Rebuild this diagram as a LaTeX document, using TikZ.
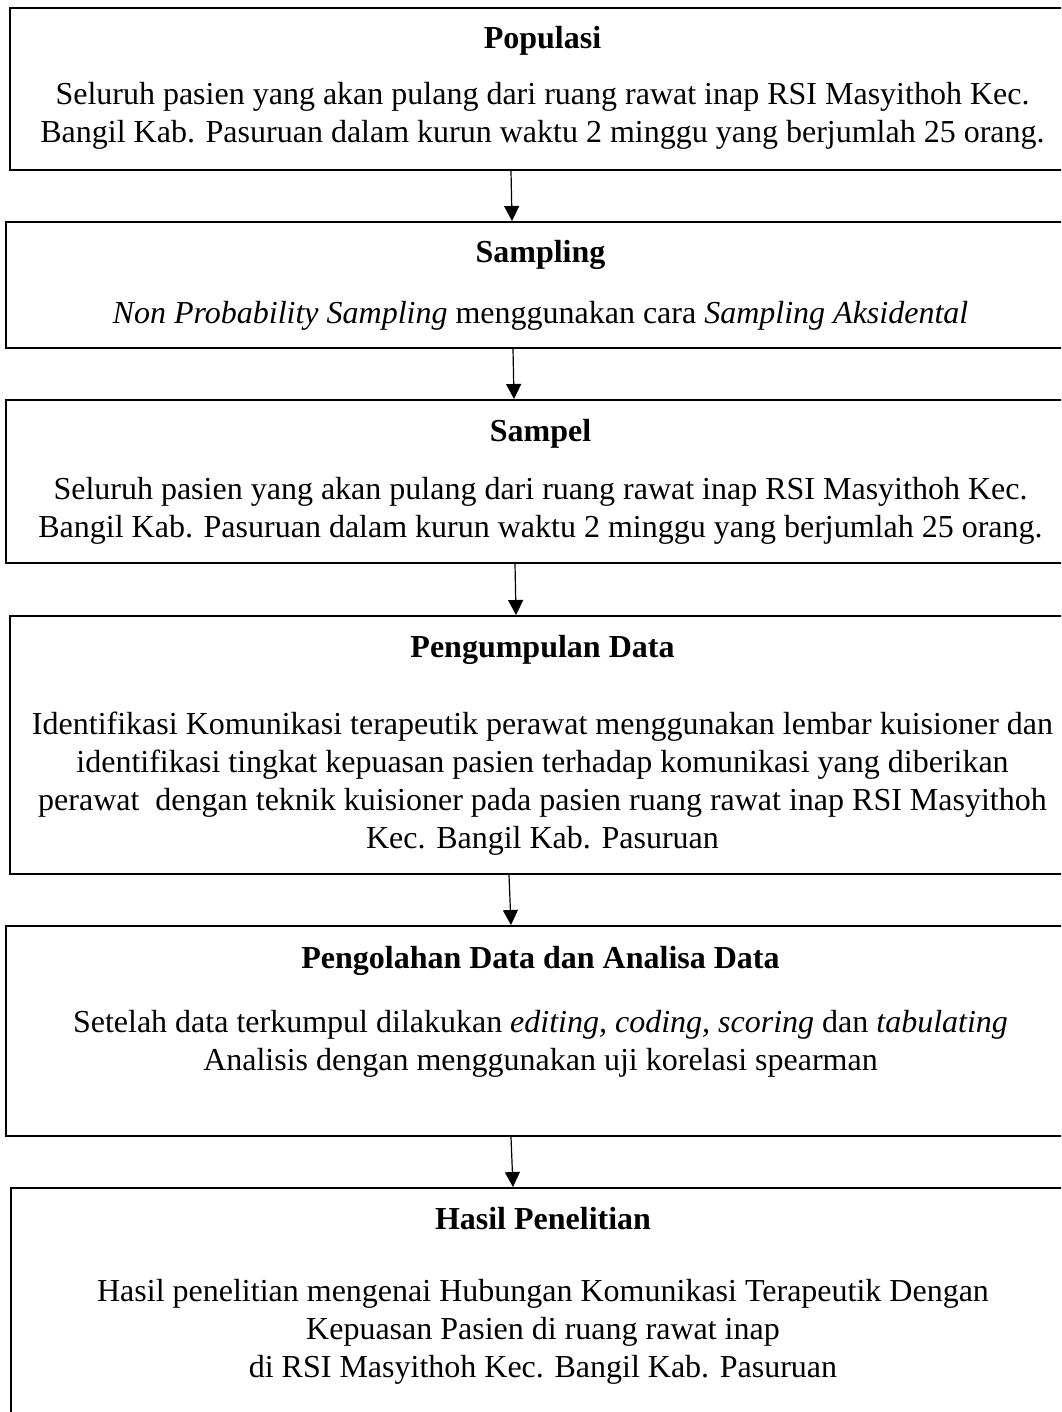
\documentclass[tikz,border=0pt]{standalone}
\usepackage{fontspec}
\setmainfont{Liberation Serif}
\usetikzlibrary{fit,arrows.meta}

\begin{document}
\begin{tikzpicture}[x=0.5pt,y=-0.5pt,
    stepbox/.style={draw, line width=1pt, inner sep=0pt},
    head/.style={font=\fontsize{16pt}{19pt}\selectfont\bfseries, anchor=base, inner sep=0pt},
    body/.style={font=\fontsize{16pt}{19pt}\selectfont, align=center, anchor=base, inner sep=0pt},
    arr/.style={line width=0.6pt, -{Triangle[length=7.5pt,width=7.5pt]}}]
    \useasboundingbox (0,0) rectangle (1061,1412);
    \clip (0,0) rectangle (1061,1412);

    \node[stepbox, fit={(10,8) (1075,170)}] (populasi) {};
    \node[head] (populasi-h) at (542.5,49) {Populasi};
    \node[body] (populasi-t) at (542.5,143) {Seluruh pasien yang akan pulang dari ruang rawat inap RSI Masyithoh Kec.\\
        Bangil Kab. Pasuruan dalam kurun waktu 2 minggu yang berjumlah 25 orang.};

    \node[stepbox, fit={(6,222) (1075,348)}] (sampling) {};
    \node[head] (sampling-h) at (540.5,263) {Sampling};
    \node[body] (sampling-t) at (540.5,323) {\textit{Non Probability Sampling} menggunakan cara \textit{Sampling Aksidental}};

    \node[stepbox, fit={(6,400) (1075,563)}] (sampel) {};
    \node[head] (sampel-h) at (540.5,441) {Sampel};
    \node[body] (sampel-t) at (540.5,537) {Seluruh pasien yang akan pulang dari ruang rawat inap RSI Masyithoh Kec.\\
        Bangil Kab. Pasuruan dalam kurun waktu 2 minggu yang berjumlah 25 orang.};

    \node[stepbox, fit={(10,616) (1075,874)}] (pengumpulan) {};
    \node[head] (pengumpulan-h) at (542.5,657) {Pengumpulan Data};
    \node[body] (pengumpulan-t) at (542.5,848) {Identifikasi Komunikasi terapeutik perawat menggunakan lembar kuisioner dan\\
        identifikasi tingkat kepuasan pasien terhadap komunikasi yang diberikan\\
        perawat\ \ dengan teknik kuisioner pada pasien ruang rawat inap RSI Masyithoh\\
        Kec. Bangil Kab. Pasuruan};

    \node[stepbox, fit={(6,926) (1075,1136)}] (pengolahan) {};
    \node[head] (pengolahan-h) at (540.5,968) {Pengolahan Data dan Analisa Data};
    \node[body] (pengolahan-t) at (540.5,1070) {Setelah data terkumpul dilakukan \textit{editing, coding, scoring} dan \textit{tabulating}\\
        Analisis dengan menggunakan uji korelasi spearman};

    \node[stepbox, fit={(11,1188) (1075,1420)}] (hasil) {};
    \node[head] (hasil-h) at (543,1229) {Hasil Penelitian};
    \node[body] (hasil-t) at (543,1377) {Hasil penelitian mengenai Hubungan Komunikasi Terapeutik Dengan\\
        Kepuasan Pasien di ruang rawat inap\\
        di RSI Masyithoh Kec. Bangil Kab. Pasuruan};

    \draw[arr] ([xshift=-15.75pt]populasi.south) -- ([xshift=-14.25pt]sampling.north);
    \draw[arr] ([xshift=-13.75pt]sampling.south) -- ([xshift=-13.25pt]sampel.north);
    \draw[arr] ([xshift=-12.75pt]sampel.south) -- ([xshift=-13.25pt]pengumpulan.north);
    \draw[arr] ([xshift=-16.75pt]pengumpulan.south) -- ([xshift=-14.75pt]pengolahan.north);
    \draw[arr] ([xshift=-14.75pt]pengolahan.south) -- ([xshift=-15pt]hasil.north);
\end{tikzpicture}
\end{document}
